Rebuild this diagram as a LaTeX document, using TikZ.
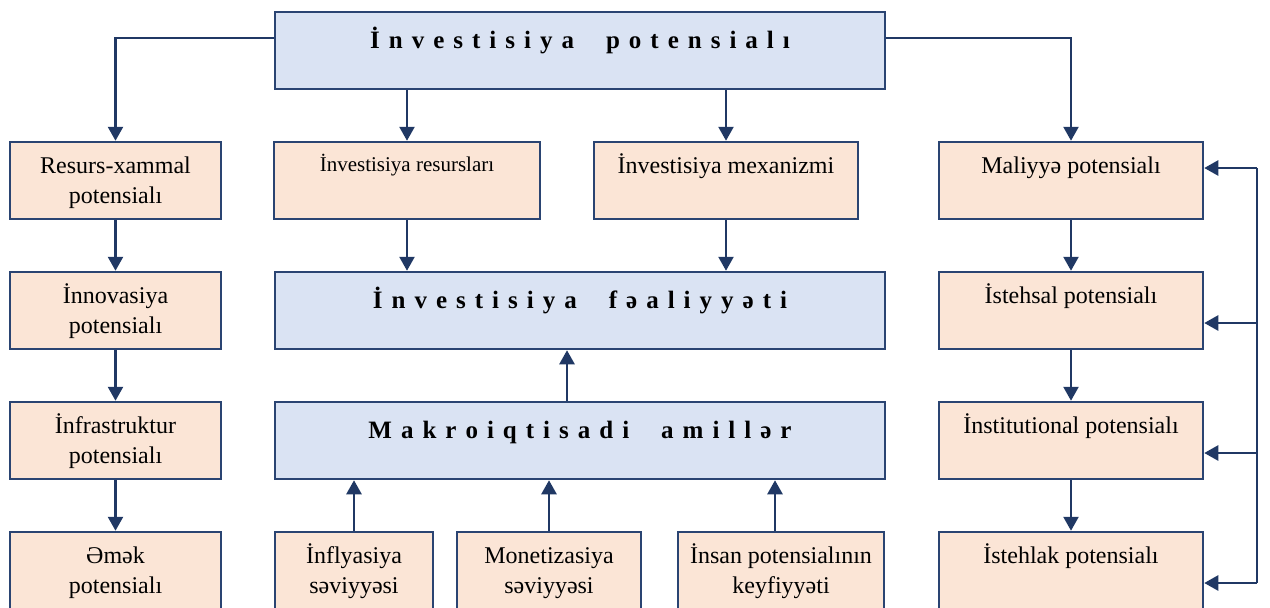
\documentclass[tikz,border=0pt]{standalone}
\usepackage{fontspec}
\setmainfont{Liberation Serif}
\usetikzlibrary{arrows.meta,calc}

\definecolor{navy}{HTML}{203864}
\definecolor{edge}{HTML}{2A4472}
\definecolor{paleblue}{HTML}{DAE3F3}
\definecolor{peach}{HTML}{FBE5D6}

% letter-spaced word for the bold headings
\ExplSyntaxOn
\cs_new_protected:Npn \spacedword #1 { \tl_map_inline:nn {#1} { ##1 \kern 0.36em } \unkern }
\ExplSyntaxOff
\newcommand\wordgap{\kern32pt}

% box contents: width, height, text (first baseline fixed from the top)
\newcommand\cell[3]{\parbox[t][#2][t]{#1}{\centering\fontsize{24}{30}\selectfont\rule{0pt}{31pt}#3}}
\newcommand\cellsm[3]{\parbox[t][#2][t]{#1}{\centering\fontsize{21}{27}\selectfont\rule{0pt}{29pt}#3}}
\newcommand\headcell[2]{\parbox[t][77pt][t]{#1}{\centering\fontsize{25}{30}\bfseries\selectfont\rule{0pt}{36pt}#2}}

\tikzset{
  base/.style={draw=edge, line width=2.5pt, inner sep=0pt, anchor=center},
  factor/.style={base, fill=peach},
  hub/.style={base, fill=paleblue},
  link/.style={draw=navy, line width=2.5pt, -{Triangle[width=15pt,length=14pt]}},
  rail/.style={draw=navy, line width=2.5pt},
}

\begin{document}
\begin{tikzpicture}[x=1pt,y=-1pt]
\useasboundingbox (0,0) rectangle (1270,608);
\clip (0,0) rectangle (1270,608);

% central column
\node[hub] (top) at (580,50.5) {\headcell{610pt}{\spacedword{İnvestisiya}\wordgap\spacedword{potensialı}}};
\node[hub] (fea) at (580,310.5) {\headcell{610pt}{\spacedword{İnvestisiya}\wordgap\spacedword{fəaliyyəti}}};
\node[hub] (makro) at (580,440.5) {\headcell{610pt}{\spacedword{Makroiqtisadi}\wordgap\spacedword{amillər}}};

\node[factor] (invres) at (407,180.5) {\cellsm{266pt}{77pt}{İnvestisiya resursları}};
\node[factor] (mex) at (726,180.5) {\cell{264pt}{77pt}{İnvestisiya mexanizmi}};

\node[factor] (infl) at (354,571.5) {\cell{158pt}{79pt}{İnflyasiya\\səviyyəsi}};
\node[factor] (mon) at (549,571.5) {\cell{184pt}{79pt}{Monetizasiya\\səviyyəsi}};
\node[factor] (insan) at (781,571.5) {\cell{206pt}{79pt}{İnsan potensialının\\keyfiyyəti}};

% left column
\node[factor] (res) at (115.5,180.5) {\cell{211pt}{77pt}{Resurs-xammal\\potensialı}};
\node[factor] (inn) at (115.5,310.5) {\cell{211pt}{77pt}{İnnovasiya\\potensialı}};
\node[factor] (inf) at (115.5,440.5) {\cell{211pt}{77pt}{İnfrastruktur\\potensialı}};
\node[factor] (emek) at (115.5,571.5) {\cell{211pt}{79pt}{Əmək\\potensialı}};

% right column
\node[factor] (mal) at (1071,180.5) {\cell{264pt}{77pt}{Maliyyə potensialı}};
\node[factor] (ist) at (1071,310.5) {\cell{264pt}{77pt}{İstehsal potensialı}};
\node[factor] (inst) at (1071,440.5) {\cell{264pt}{77pt}{İnstitutional potensialı}};
\node[factor] (istl) at (1071,571.5) {\cell{264pt}{79pt}{İstehlak potensialı}};

% branches from the top box
\draw[link] ([yshift=12.5pt]top.west) -| (res.north);
\draw[link] ([yshift=12.5pt]top.east) -| (mal.north);
\draw[link] (top.south -| invres.north) -- (invres.north);
\draw[link] (top.south -| mex.north) -- (mex.north);

% chains in the side columns
\draw[link] (res) -- (inn);
\draw[link] (inn) -- (inf);
\draw[link] (inf) -- (emek);
\draw[link] (mal) -- (ist);
\draw[link] (ist) -- (inst);
\draw[link] (inst) -- (istl);

% into the activity box
\draw[link] (invres) -- (invres |- fea.north);
\draw[link] (mex) -- (mex |- fea.north);
\draw[link] ([xshift=-13pt]makro.north) -- ([xshift=-13pt]makro.north |- fea.south);

% macro factors
\draw[link] (infl) -- (infl |- makro.south);
\draw[link] (mon) -- (mon |- makro.south);
\draw[link] ([xshift=-6pt]insan.north) -- ([xshift=-6pt]insan.north |- makro.south);

% feedback rail on the right
\coordinate (fb1) at (1257,168);
\coordinate (fb2) at (1257,323);
\coordinate (fb3) at (1257,453);
\coordinate (fb4) at (1257,583);
\draw[rail] (fb1) -- (fb4);
\draw[link] (fb1) -- (fb1 -| mal.east);
\draw[link] (fb2) -- (fb2 -| ist.east);
\draw[link] (fb3) -- (fb3 -| inst.east);
\draw[link] (fb4) -- (fb4 -| istl.east);
\end{tikzpicture}
\end{document}
